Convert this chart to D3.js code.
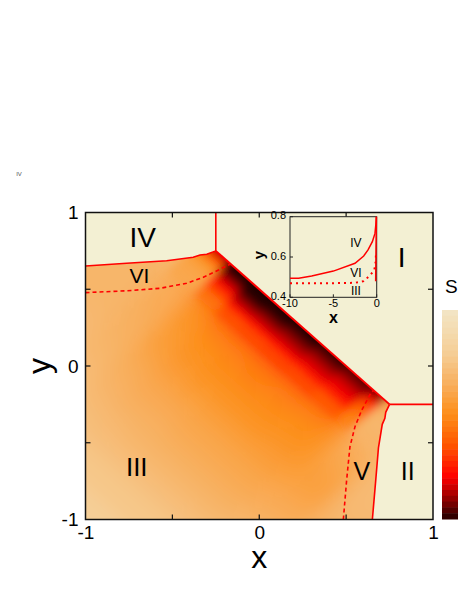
<!DOCTYPE html>
<html>
<head>
<meta charset="utf-8">
<script src="https://cdn.jsdelivr.net/npm/d3@7"></script>
<style>
  body { margin: 0; background: #fff; }
  text { font-family: "Liberation Sans", Arial, sans-serif; }
</style>
</head>
<body>
<div id="chart"></div>
<script>
// field S, on bands of (distance below the diagonal, position along it)
var duEdges = [-0.15, 0.04, 0.08, 0.12, 0.17, 0.23, 0.3, 0.4, 0.5, 0.62, 0.75, 0.9, 1.05, 1.2, 1.4, 1.6, 1.8, 2.0, 2.3, 2.9];
var vEdges = [-2.4, -1.15, -0.85, -0.6, -0.35, -0.1, 0.2, 0.5, 0.8, 0.95, 1.3, 2.4];
var sField = [
  [0.3, 0.85, 1, 1, 1, 1, 0.98, 0.95, 0.9, 0.4, 0.3],
  [0.3, 0.68, 0.98, 1, 1, 0.98, 0.95, 0.92, 0.84, 0.36, 0.3],
  [0.31, 0.55, 0.93, 0.99, 0.97, 0.94, 0.91, 0.87, 0.75, 0.34, 0.3],
  [0.32, 0.47, 0.85, 0.94, 0.92, 0.9, 0.87, 0.84, 0.67, 0.32, 0.3],
  [0.32, 0.42, 0.77, 0.87, 0.86, 0.85, 0.83, 0.81, 0.61, 0.32, 0.3],
  [0.32, 0.4, 0.68, 0.78, 0.77, 0.78, 0.76, 0.74, 0.56, 0.32, 0.29],
  [0.32, 0.39, 0.57, 0.66, 0.67, 0.68, 0.67, 0.64, 0.53, 0.33, 0.29],
  [0.32, 0.38, 0.51, 0.58, 0.59, 0.6, 0.59, 0.57, 0.5, 0.35, 0.29],
  [0.32, 0.37, 0.48, 0.53, 0.54, 0.55, 0.54, 0.52, 0.48, 0.37, 0.29],
  [0.32, 0.37, 0.46, 0.5, 0.51, 0.52, 0.51, 0.5, 0.47, 0.39, 0.3],
  [0.32, 0.36, 0.44, 0.48, 0.49, 0.49, 0.49, 0.48, 0.46, 0.41, 0.3],
  [0.32, 0.35, 0.42, 0.45, 0.46, 0.46, 0.46, 0.45, 0.44, 0.42, 0.31],
  [0.31, 0.34, 0.39, 0.41, 0.42, 0.42, 0.42, 0.42, 0.41, 0.4, 0.32],
  [0.3, 0.32, 0.36, 0.38, 0.38, 0.39, 0.39, 0.39, 0.38, 0.37, 0.32],
  [0.28, 0.3, 0.33, 0.35, 0.35, 0.36, 0.36, 0.36, 0.35, 0.34, 0.3],
  [0.26, 0.27, 0.3, 0.31, 0.32, 0.32, 0.32, 0.32, 0.31, 0.3, 0.28],
  [0.24, 0.25, 0.27, 0.28, 0.28, 0.28, 0.28, 0.28, 0.28, 0.27, 0.26],
  [0.21, 0.21, 0.23, 0.24, 0.24, 0.24, 0.24, 0.24, 0.24, 0.24, 0.23],
  [0.18, 0.18, 0.19, 0.2, 0.2, 0.2, 0.2, 0.2, 0.2, 0.2, 0.2]
];
var nearRows = 7; // bands next to the diagonal, kept sharper

// phase boundaries (x, y)
var cornerA = [-0.25, 0.75];
var cornerB = [0.75, -0.25];
var lineIV_VI = [[-1, 0.651], [-0.763, 0.669], [-0.533, 0.686], [-0.38, 0.708], [-0.341, 0.723], [-0.302, 0.728], [-0.25, 0.75]];
var lineV_II = [[0.651, -1], [0.669, -0.763], [0.686, -0.533], [0.708, -0.38], [0.723, -0.341], [0.728, -0.302], [0.75, -0.25]];
var dashVI_III = [[-1, 0.478], [-0.763, 0.49], [-0.571, 0.506], [-0.418, 0.539], [-0.322, 0.578], [-0.255, 0.614], [-0.2, 0.645], [-0.165, 0.665]];
var dashV_III = [[0.484, -1], [0.503, -0.743], [0.522, -0.526], [0.551, -0.395], [0.59, -0.287], [0.647, -0.167], [0.66, -0.16]];

var xTicks = [-1, 0, 1];
var yTicks = [-1, 0, 1];
var minorTicks = [-0.5, 0, 0.5];

var regionLabels = [
  {t: "IV", x: -0.67, y: 0.84, size: 28},
  {t: "VI", x: -0.69, y: 0.59, size: 21},
  {t: "I", x: 0.82, y: 0.71, size: 28},
  {t: "III", x: -0.705, y: -0.66, size: 26},
  {t: "V", x: 0.59, y: -0.685, size: 25},
  {t: "II", x: 0.855, y: -0.685, size: 25}
];

// inset data
var insetSolid = [[-10, 0.494], [-9, 0.495], [-7.5, 0.506], [-5, 0.53], [-2.5, 0.569], [-1.5, 0.605], [-1, 0.635], [-0.5, 0.676], [-0.2, 0.717], [-0.1, 0.76], [-0.05, 0.8]];
var insetSolid2 = [[-0.03, 0.8], [-0.08, 0.65], [-0.12, 0.48]];
var insetDotted = [[-10, 0.47], [-5, 0.47], [-2.5, 0.472], [-1.5, 0.48], [-0.77, 0.509], [-0.28, 0.535], [-0.12, 0.577], [-0.08, 0.618]];
var insetXTicks = [-10, -5, 0];
var insetYTicks = [0.4, 0.6, 0.8];
var insetLabels = [{t: "IV", x: -2.4, y: 0.67}, {t: "VI", x: -2.4, y: 0.52}, {t: "III", x: -2.4, y: 0.43}];

// colour map of S
var cbDomain = [0, 0.2, 0.35, 0.5, 0.65, 0.8, 0.92, 1];
var cbColors = ["#f3e6c6", "#f5cf98", "#f8b060", "#fd8e18", "#ff5500", "#ff0000", "#800000", "#200000"];

var W = 458, H = 592;
var cream = "#f3f0d3";
var fontFam = "Liberation Sans, Arial, sans-serif";

var svg = d3.select("#chart").append("svg")
  .attr("width", W).attr("height", H);

var x = d3.scaleLinear().domain([-1, 1]).range([85.5, 433]);
var y = d3.scaleLinear().domain([-1, 1]).range([519.5, 212.5]);
var color = d3.scaleLinear().domain(cbDomain).range(cbColors).clamp(true);

var defs = svg.append("defs");
defs.append("clipPath").attr("id", "plotclip")
  .append("rect").attr("x", x(-1)).attr("y", y(1))
  .attr("width", x(1) - x(-1)).attr("height", y(-1) - y(1));
defs.append("filter").attr("id", "softFar")
  .attr("x", "-10%").attr("y", "-10%").attr("width", "120%").attr("height", "120%")
  .append("feGaussianBlur").attr("stdDeviation", 10);
defs.append("filter").attr("id", "softNear")
  .attr("x", "-10%").attr("y", "-10%").attr("width", "120%").attr("height", "120%")
  .append("feGaussianBlur").attr("stdDeviation", 4.5);

// heat field
var cells = [];
sField.forEach(function(row, i) {
  row.forEach(function(s, j) {
    var u0 = 0.5 - duEdges[i], u1 = 0.5 - duEdges[i + 1];
    var v0 = vEdges[j], v1 = vEdges[j + 1];
    var pts = [[u0, v0], [u0, v1], [u1, v1], [u1, v0]].map(function(p) {
      return [x((p[0] + p[1]) / 2), y((p[0] - p[1]) / 2)];
    });
    cells.push({s: s, row: i, pts: pts});
  });
});

function drawCells(g, data) {
  g.selectAll("polygon").data(data).enter().append("polygon")
    .attr("points", function(d) { return d.pts.map(function(p) { return p.join(","); }).join(" "); })
    .attr("fill", function(d) { return color(d.s); })
    .attr("stroke", function(d) { return color(d.s); })
    .attr("stroke-width", 1);
}

var fieldG = svg.append("g").attr("clip-path", "url(#plotclip)");
drawCells(fieldG.append("g").attr("filter", "url(#softFar)"), cells);
drawCells(fieldG.append("g").attr("filter", "url(#softNear)"),
  cells.filter(function(d) { return d.row < nearRows; }));

// cream phases I, II, IV
var creamPoly = [[-1, 1], [1, 1], [1, -1]]
  .concat(lineV_II)
  .concat([cornerA])
  .concat(lineIV_VI.slice().reverse());
fieldG.append("polygon")
  .attr("points", creamPoly.map(function(p) { return x(p[0]) + "," + y(p[1]); }).join(" "))
  .attr("fill", cream);

var line = d3.line().x(function(d) { return x(d[0]); }).y(function(d) { return y(d[1]); });

var lines = fieldG.append("g").attr("fill", "none").attr("stroke", "#ff0000");
lines.append("path").attr("d", line(lineIV_VI)).attr("stroke-width", 1.6);
lines.append("path").attr("d", line(lineV_II)).attr("stroke-width", 1.6);
lines.append("path").attr("d", line([cornerA, cornerB])).attr("stroke-width", 2);
lines.append("path").attr("d", line([cornerA, [cornerA[0], 1]])).attr("stroke-width", 1.6);
lines.append("path").attr("d", line([cornerB, [1, cornerB[1]]])).attr("stroke-width", 1.6);
lines.append("path").attr("d", line(dashVI_III)).attr("stroke-width", 1.6).attr("stroke-dasharray", "4,3");
lines.append("path").attr("d", line(dashV_III)).attr("stroke-width", 1.6).attr("stroke-dasharray", "4,3");

// region labels
svg.append("g").selectAll("text").data(regionLabels).enter().append("text")
  .attr("x", function(d) { return x(d.x); })
  .attr("y", function(d) { return y(d.y); })
  .attr("text-anchor", "middle").attr("dominant-baseline", "central")
  .attr("font-size", function(d) { return d.size; })
  .text(function(d) { return d.t; });

// frame and ticks
svg.append("rect").attr("x", x(-1)).attr("y", y(1))
  .attr("width", x(1) - x(-1)).attr("height", y(-1) - y(1))
  .attr("fill", "none").attr("stroke", "#111").attr("stroke-width", 1.5);

var plain = function(d) { return String(d); };
svg.append("g").attr("transform", "translate(0," + y(-1) + ")")
  .call(d3.axisBottom(x).tickValues(xTicks).tickFormat(plain).tickSize(0).tickPadding(6))
  .call(function(g) { g.select(".domain").remove(); g.selectAll("text").attr("font-size", 19).attr("font-family", fontFam); });
svg.append("g").attr("transform", "translate(" + x(-1) + ",0)")
  .call(d3.axisLeft(y).tickValues(yTicks).tickFormat(plain).tickSize(0).tickPadding(7))
  .call(function(g) { g.select(".domain").remove(); g.selectAll("text").attr("font-size", 19).attr("font-family", fontFam); });

var tk = svg.append("g").attr("stroke", "#111").attr("stroke-width", 1.2);
minorTicks.forEach(function(t) {
  tk.append("line").attr("x1", x(t)).attr("x2", x(t)).attr("y1", y(-1)).attr("y2", y(-1) - 5);
  tk.append("line").attr("x1", x(t)).attr("x2", x(t)).attr("y1", y(1)).attr("y2", y(1) + 5);
  tk.append("line").attr("y1", y(t)).attr("y2", y(t)).attr("x1", x(-1)).attr("x2", x(-1) + 5);
  tk.append("line").attr("y1", y(t)).attr("y2", y(t)).attr("x1", x(1)).attr("x2", x(1) - 5);
});

svg.append("text").attr("x", x(0)).attr("y", 568)
  .attr("text-anchor", "middle").attr("font-size", 32).text("x");
svg.append("text").attr("transform", "translate(50," + y(0) + ") rotate(-90)")
  .attr("text-anchor", "middle").attr("font-size", 32).text("y");

// inset
var ix = d3.scaleLinear().domain([-10, 0]).range([290, 376.7]);
var iy = d3.scaleLinear().domain([0.4, 0.8]).range([297.3, 216.7]);
var inset = svg.append("g");
inset.append("rect").attr("x", ix(-10)).attr("y", iy(0.8))
  .attr("width", ix(0) - ix(-10)).attr("height", iy(0.4) - iy(0.8))
  .attr("fill", cream).attr("stroke", "#222").attr("stroke-width", 1);
var iline = d3.line().x(function(d) { return ix(d[0]); }).y(function(d) { return iy(d[1]); });
inset.append("path").attr("d", iline(insetSolid)).attr("fill", "none").attr("stroke", "#ff0000").attr("stroke-width", 1.5);
inset.append("path").attr("d", iline(insetSolid2)).attr("fill", "none").attr("stroke", "#ff0000").attr("stroke-width", 1.5);
inset.append("path").attr("d", iline(insetDotted)).attr("fill", "none").attr("stroke", "#ff0000")
  .attr("stroke-width", 2).attr("stroke-dasharray", "2,4");
inset.selectAll(".ixl").data(insetXTicks).enter().append("text")
  .attr("x", function(d) { return ix(d); }).attr("y", 307)
  .attr("text-anchor", "middle").attr("font-size", 11).text(function(d) { return d; });
inset.selectAll(".iyl").data(insetYTicks).enter().append("text")
  .attr("x", 286).attr("y", function(d) { return iy(d) - 1.5; })
  .attr("text-anchor", "end").attr("dominant-baseline", "central")
  .attr("font-size", 11).text(function(d) { return d.toFixed(1); });
insetXTicks.forEach(function(t) {
  inset.append("line").attr("x1", ix(t)).attr("x2", ix(t)).attr("y1", iy(0.4)).attr("y2", iy(0.4) - 3).attr("stroke", "#222");
});
insetYTicks.forEach(function(t) {
  inset.append("line").attr("y1", iy(t)).attr("y2", iy(t)).attr("x1", ix(-10)).attr("x2", ix(-10) + 3).attr("stroke", "#222");
});
inset.selectAll(".ilab").data(insetLabels).enter().append("text")
  .attr("x", function(d) { return ix(d.x); }).attr("y", function(d) { return iy(d.y); })
  .attr("text-anchor", "middle").attr("dominant-baseline", "central")
  .attr("font-size", 12).text(function(d) { return d.t; });
inset.append("text").attr("x", ix(-5)).attr("y", 323)
  .attr("text-anchor", "middle").attr("font-size", 16).attr("font-weight", "bold").text("x");
inset.append("text").attr("transform", "translate(264,255) rotate(-90)")
  .attr("text-anchor", "middle").attr("font-size", 15).attr("font-weight", "bold").text("y");

// colour bar
var cbY = d3.scaleLinear().domain([0, 1]).range([310, 519]);
var cbSteps = d3.range(0, 1, 1 / 36);
svg.append("g").selectAll("rect").data(cbSteps).enter().append("rect")
  .attr("x", 442).attr("width", 30)
  .attr("y", function(d) { return cbY(d); })
  .attr("height", cbY(1 / 36) - cbY(0) + 0.5)
  .attr("fill", function(d) { return color(d + 0.5 / 36); });
svg.append("text").attr("x", 445).attr("y", 293).attr("font-size", 19).text("S");

// tiny stray mark top-left
svg.append("text").attr("x", 19).attr("y", 176).attr("text-anchor", "middle")
  .attr("font-size", 6).attr("fill", "#555").text("IV");
</script>
</body>
</html>
